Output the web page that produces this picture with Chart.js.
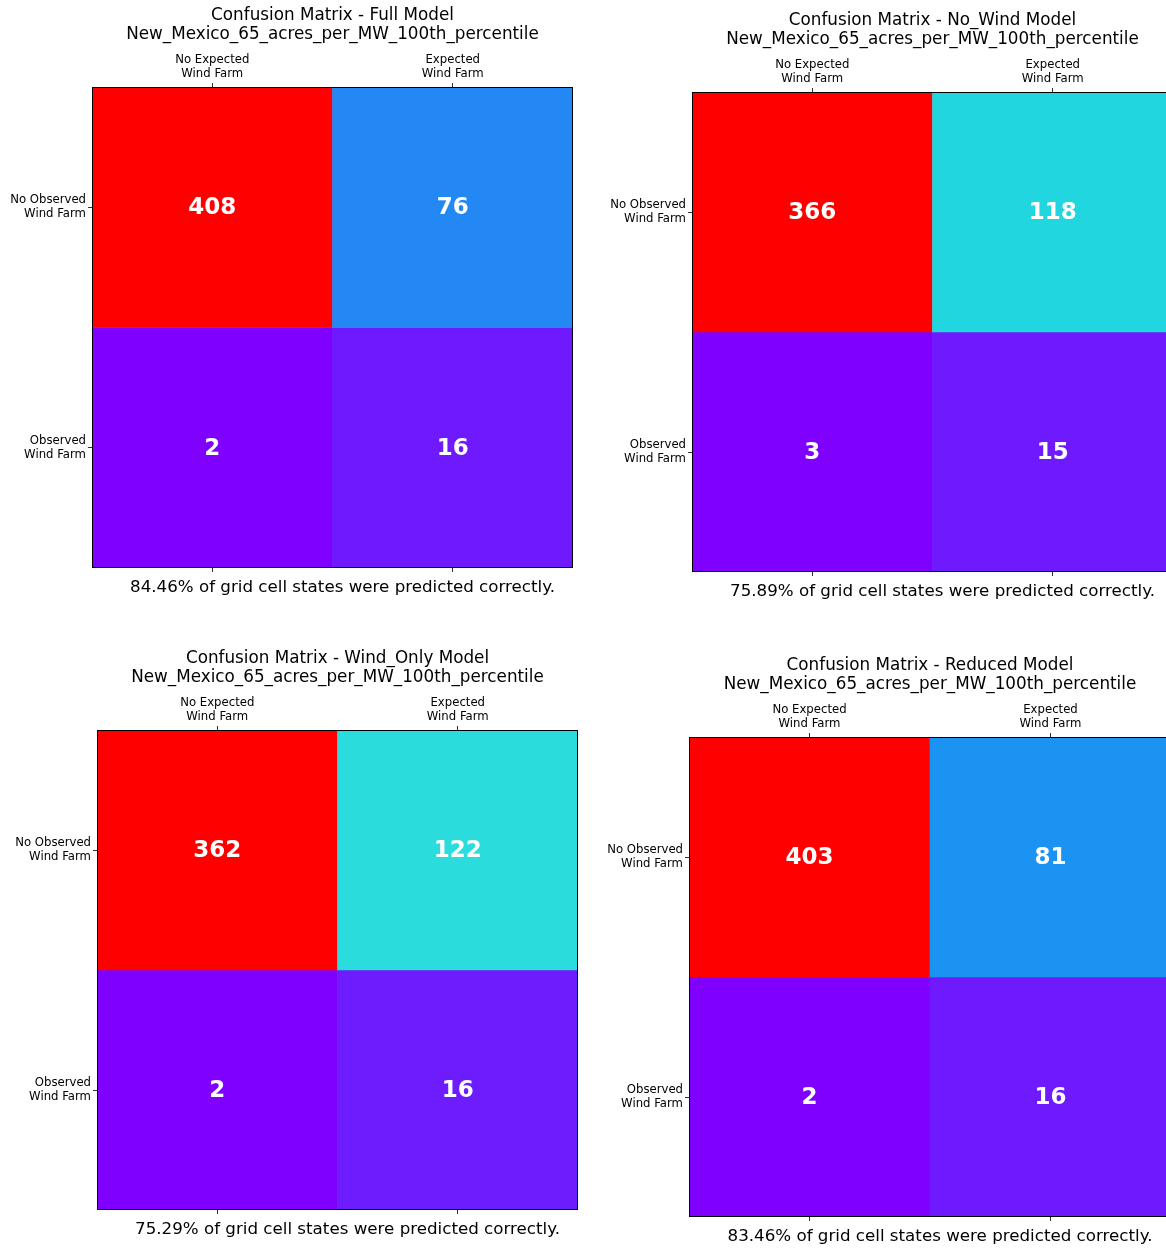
<!DOCTYPE html>
<html>
<head>
<meta charset="utf-8">
<script src="https://cdn.jsdelivr.net/npm/chart.js@4.4.1/dist/chart.umd.min.js"></script>
<style>
  html, body { margin: 0; padding: 0; background: #ffffff; }
  body { width: 1166px; height: 1249px; position: relative; overflow: hidden; }
  canvas { position: absolute; }
</style>
</head>
<body>
<script>
// ---- data ----
const predictedLabels = [['No Expected', 'Wind Farm'], ['Expected', 'Wind Farm']];
const observedLabels = [['No Observed', 'Wind Farm'], ['Observed', 'Wind Farm']];
const regionName = 'New_Mexico_65_acres_per_MW_100th_percentile';
const modelNames = ['Full', 'No_Wind', 'Wind_Only', 'Reduced'];
const fullMatrix = [[408, 76], [2, 16]];
const noWindMatrix = [[366, 118], [3, 15]];
const windOnlyMatrix = [[362, 122], [2, 16]];
const reducedMatrix = [[403, 81], [2, 16]];
const accuracyPct = [84.46, 75.89, 75.29, 83.46];

// ---- panel placement (plot-area left/top and size, page pixels) ----
const panelLayout = [
  { left: 92, top: 87, w: 481, h: 481 },
  { left: 692, top: 92, w: 481, h: 480 },
  { left: 97, top: 730, w: 481, h: 480 },
  { left: 689, top: 737, w: 482, h: 480 }
];
const matrices = [fullMatrix, noWindMatrix, windOnlyMatrix, reducedMatrix];

Chart.defaults.font.family = '"DejaVu Sans", sans-serif';
Chart.defaults.color = '#000';

// matplotlib-style 'rainbow' colormap, 256 levels
function rainbow(t) {
  const idx = Math.min(255, Math.max(0, Math.floor(t * 256)));
  const x = idx / 255;
  const r = Math.min(1, Math.abs(2 * x - 0.5));
  const g = Math.sin(Math.PI * x);
  const b = Math.cos(Math.PI * x / 2);
  return `rgb(${Math.floor(r * 255)},${Math.floor(g * 255)},${Math.floor(b * 255)})`;
}

// count labels in each cell plus the frame around the plot area
const cellValues = {
  id: 'cellValues',
  afterDatasetsDraw(chart) {
    const ctx = chart.ctx;
    ctx.save();
    ctx.font = 'bold 23px "DejaVu Sans"';
    ctx.fillStyle = '#ffffff';
    ctx.textAlign = 'center';
    ctx.textBaseline = 'middle';
    chart.data.datasets.forEach((ds, di) => {
      chart.getDatasetMeta(di).data.forEach((bar, i) => {
        const c = bar.getCenterPoint();
        ctx.fillText(String(ds.counts[i]), c.x, c.y + 1);
      });
    });
    const a = chart.chartArea;
    ctx.strokeStyle = '#000';
    ctx.lineWidth = 1;
    ctx.strokeRect(a.left + 0.5, a.top + 0.5, a.right - a.left - 1, a.bottom - a.top - 1);
    ctx.restore();
  }
};

const tickFont = { family: '"DejaVu Sans"', size: 11.7, lineHeight: '14px' };
const tickGrid = { display: true, drawOnChartArea: false, offset: false, tickLength: 4, color: '#333', lineWidth: 1 };

function buildPanel(matrix, name, acc, pos) {
  const canvas = document.createElement('canvas');
  const W = 100 + pos.w + 120;
  const H = 87 + pos.h + 34;
  canvas.width = W;
  canvas.height = H;
  canvas.style.width = W + 'px';
  canvas.style.height = H + 'px';
  canvas.style.left = (pos.left - 100) + 'px';
  canvas.style.top = (pos.top - 87) + 'px';
  document.body.appendChild(canvas);

  const flat = matrix.flat();
  const lo = Math.min(...flat);
  const hi = Math.max(...flat);
  const colorOf = v => rainbow((v - lo) / (hi - lo));

  const datasets = matrix.map((row, r) => ({
    label: observedLabels[r].join(' '),
    data: row.map(() => [r, r + 1]),
    counts: row,
    backgroundColor: row.map(colorOf),
    borderWidth: 0,
    grouped: false,
    barPercentage: 1,
    categoryPercentage: 1,
    xAxisID: 'x',
    yAxisID: 'y'
  }));

  new Chart(canvas, {
    type: 'bar',
    data: { labels: predictedLabels, datasets },
    plugins: [cellValues],
    options: {
      responsive: false,
      animation: false,
      devicePixelRatio: 1,
      layout: { padding: 0 },
      plugins: {
        legend: { display: false },
        tooltip: { enabled: false },
        title: {
          display: true,
          position: 'top',
          fullSize: false,
          text: [`Confusion Matrix - ${name} Model`, regionName],
          color: '#000',
          font: { family: '"DejaVu Sans"', size: 16.8, weight: 'normal', lineHeight: '19px' },
          padding: { top: 6, bottom: 3 }
        },
        subtitle: {
          display: true,
          position: 'bottom',
          fullSize: true,
          text: `${acc.toFixed(2)}% of grid cell states were predicted correctly.`,
          color: '#000',
          font: { family: '"DejaVu Sans"', size: 16.7, weight: 'normal', lineHeight: '20px' },
          padding: { top: 4, bottom: 4 }
        }
      },
      scales: {
        x: {
          type: 'category',
          position: 'top',
          offset: true,
          grid: tickGrid,
          border: { display: false },
          ticks: { color: '#000', padding: 2, font: tickFont, maxRotation: 0, autoSkip: false },
          afterFit(s) { s.height = 40; }
        },
        x2: {
          type: 'category',
          position: 'bottom',
          offset: true,
          grid: tickGrid,
          border: { display: false },
          ticks: { display: false },
          afterFit(s) { s.height = 6; }
        },
        y: {
          type: 'linear',
          position: 'left',
          reverse: true,
          min: 0,
          max: 2,
          grid: tickGrid,
          border: { display: false },
          afterBuildTicks(s) { s.ticks = observedLabels.map((_, i) => ({ value: i + 0.5 })); },
          ticks: {
            color: '#000',
            padding: 2,
            font: tickFont,
            callback: v => observedLabels[Math.floor(v)]
          },
          afterFit(s) { s.width = 100; }
        },
        y2: {
          type: 'linear',
          position: 'right',
          min: 0,
          max: 2,
          grid: { display: false },
          border: { display: false },
          ticks: { display: false },
          afterFit(s) { s.width = 120; }
        }
      }
    }
  });
}

matrices.forEach((m, i) => buildPanel(m, modelNames[i], accuracyPct[i], panelLayout[i]));
</script>
</body>
</html>
